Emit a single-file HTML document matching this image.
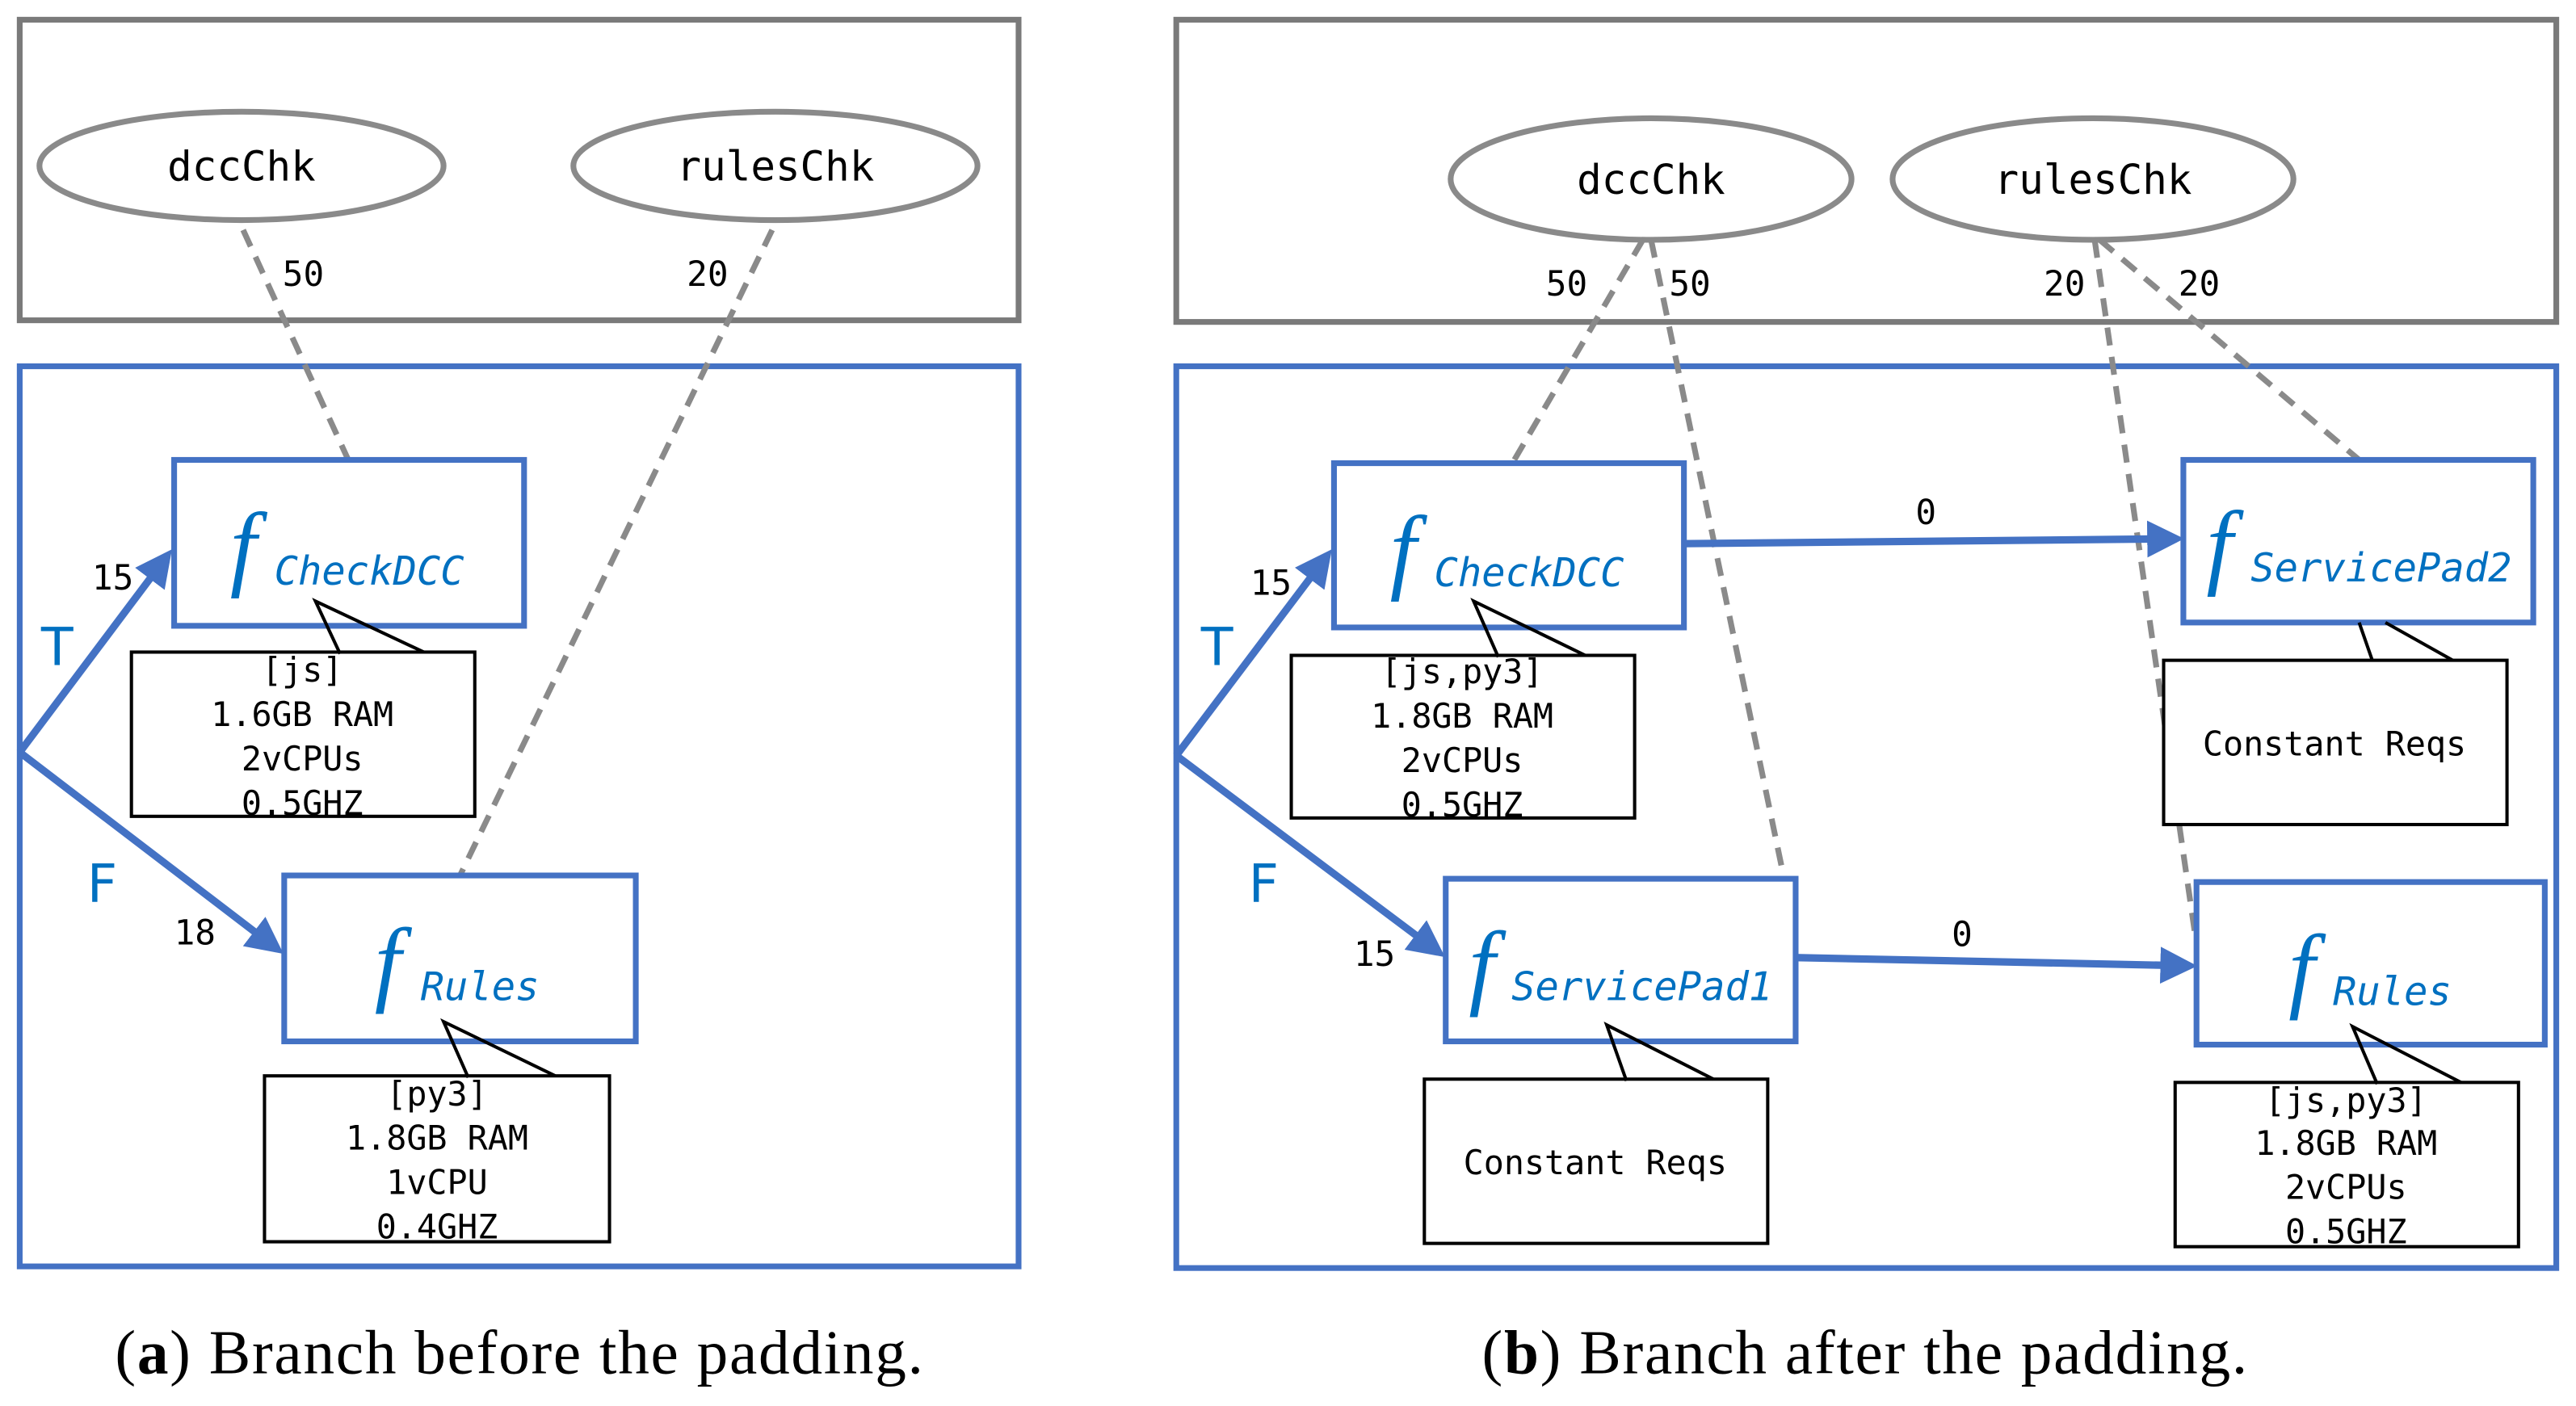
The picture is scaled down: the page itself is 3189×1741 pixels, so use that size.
<!DOCTYPE html>
<html><head><meta charset="utf-8"><style>
html,body{margin:0;padding:0;background:#fff;}
svg{display:block;}
.m{font-family:"DejaVu Sans Mono","Liberation Mono",monospace;fill:#000;}
.f{font-family:"Liberation Serif",serif;font-style:italic;fill:#0070c0;font-size:58px;}
.s{font-family:"DejaVu Sans Mono","Liberation Mono",monospace;font-style:italic;fill:#0070c0;font-size:24px;}
.tf{font-family:"DejaVu Sans","Liberation Sans",sans-serif;fill:#0070c0;font-size:32px;}
.cap{font-family:"Liberation Serif",serif;font-size:38px;fill:#000;}
</style></head><body>
<svg width="3189" height="1741" viewBox="0 0 1568 856" preserveAspectRatio="none" xmlns="http://www.w3.org/2000/svg">
<defs><marker id="ar" markerWidth="5" markerHeight="5" refX="4" refY="2.5" orient="auto" markerUnits="strokeWidth"><path d="M0,0 L5,2.5 L0,5 z" fill="#4472c4"/></marker></defs>
<g fill="none" stroke-width="3.5">
<rect x="12" y="12" width="608" height="183" stroke="#7a7a7a"/>
<rect x="12" y="223" width="608" height="548" stroke="#4472c4"/>
<rect x="716" y="12" width="840" height="184" stroke="#7a7a7a"/>
<rect x="716" y="223" width="840" height="549" stroke="#4472c4"/>
<g stroke="#8a8a8a">
<ellipse cx="147" cy="101" rx="123" ry="33"/><ellipse cx="472" cy="101" rx="123" ry="33"/>
<ellipse cx="1005" cy="109" rx="122" ry="37"/><ellipse cx="1274" cy="109" rx="122" ry="37"/>
</g>
<g stroke="#8a8a8a" stroke-dasharray="11,7">
<path d="M148,140 L212,280"/><path d="M470,140 L280,533"/>
<path d="M1000,146 L920,283"/><path d="M1005,146 L1086,535"/><path d="M1275,146 L1336,568"/><path d="M1278,146 L1436,280"/>
</g>
<g stroke="#4472c4">
<rect x="106" y="280" width="213" height="101"/><rect x="173" y="533" width="214" height="101"/>
<rect x="812" y="282" width="213" height="100"/><rect x="1329" y="280" width="213" height="99"/>
<rect x="880" y="535" width="213" height="99"/><rect x="1337" y="537" width="212" height="99"/>
</g>
<g stroke="#4472c4" stroke-width="4.5" marker-end="url(#ar)">
<path d="M12,458 L102,338"/><path d="M12,458 L169,578"/>
<path d="M716,460 L808,338"/><path d="M716,460 L876,580"/>
<path d="M1025,331 L1325,328"/><path d="M1093,583 L1333,588"/>
</g>
</g>
<g fill="#fff" stroke="#000" stroke-width="2">
<rect x="80" y="397" width="209" height="100"/><path d="M207,398 L192,366 L258,397" fill="none"/>
<rect x="161" y="655" width="210" height="101"/><path d="M285,656 L270,622 L338,655" fill="none"/>
<rect x="786" y="399" width="209" height="99"/><path d="M912,400 L897,366 L965,399" fill="none"/>
<rect x="1317" y="402" width="209" height="100"/><path d="M1436,379 L1444,402 M1452,379 L1493,402" fill="none"/>
<rect x="867" y="657" width="209" height="100"/><path d="M990,658 L978,624 L1043,657" fill="none"/>
<rect x="1324" y="659" width="209" height="100"/><path d="M1447,660 L1432,625 L1498,659" fill="none"/>
</g>
<g class="m" font-size="25" text-anchor="middle">
<text x="147" y="110">dccChk</text><text x="472" y="110">rulesChk</text>
<text x="1005" y="118">dccChk</text><text x="1274" y="118">rulesChk</text>
</g>
<g class="m" font-size="21">
<text x="172" y="174">50</text><text x="418" y="174">20</text>
<text x="941" y="180">50</text><text x="1016" y="180">50</text><text x="1244" y="180">20</text><text x="1326" y="180">20</text>
<text x="56" y="359">15</text><text x="106" y="575">18</text>
<text x="761" y="362">15</text><text x="824" y="588">15</text>
<text x="1166" y="319">0</text><text x="1188" y="576">0</text>
</g>
<text class="tf" x="25" y="405">T</text><text class="tf" x="53" y="549">F</text>
<text class="tf" x="731" y="405">T</text><text class="tf" x="760" y="549">F</text>
<g class="m" font-size="20.5" text-anchor="middle">
<text x="184" y="415">[js]</text><text x="184" y="442">1.6GB RAM</text><text x="184" y="469">2vCPUs</text><text x="184" y="496">0.5GHZ</text>
<text x="266" y="673">[py3]</text><text x="266" y="700">1.8GB RAM</text><text x="266" y="727">1vCPU</text><text x="266" y="754">0.4GHZ</text>
<text x="890" y="416">[js,py3]</text><text x="890" y="443">1.8GB RAM</text><text x="890" y="470">2vCPUs</text><text x="890" y="497">0.5GHZ</text>
<text x="1428" y="677">[js,py3]</text><text x="1428" y="703">1.8GB RAM</text><text x="1428" y="730">2vCPUs</text><text x="1428" y="757">0.5GHZ</text>
<text x="1421" y="460">Constant Reqs</text><text x="971" y="715">Constant Reqs</text>
</g>
<text class="f" x="140" y="352">f</text><text class="s" x="167" y="356">CheckDCC</text>
<text class="f" x="228" y="605">f</text><text class="s" x="256" y="609">Rules</text>
<text class="f" x="846" y="354">f</text><text class="s" x="873" y="357">CheckDCC</text>
<text class="f" x="1343" y="351">f</text><text class="s" x="1370" y="354">ServicePad2</text>
<text class="f" x="894" y="607">f</text><text class="s" x="920" y="609">ServicePad1</text>
<text class="f" x="1393" y="609">f</text><text class="s" x="1420" y="612">Rules</text>
<text class="cap" x="316" y="836" text-anchor="middle" textLength="492">(<tspan font-weight="bold">a</tspan>) Branch before the padding.</text>
<text class="cap" x="1135" y="836" text-anchor="middle" textLength="466">(<tspan font-weight="bold">b</tspan>) Branch after the padding.</text>
</svg>
</body></html>
